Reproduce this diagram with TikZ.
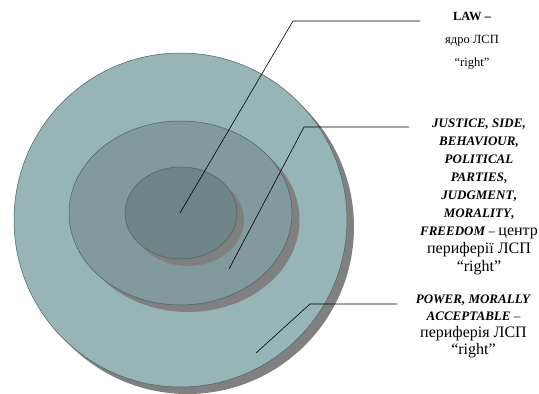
\documentclass[tikz,border=0pt]{standalone}
\usepackage{fontspec}
\setmainfont{Liberation Serif}
\usetikzlibrary{positioning}

\definecolor{outerfill}{HTML}{97B4B6}
\definecolor{midfill}{HTML}{82999D}
\definecolor{corefill}{HTML}{6F8587}
\definecolor{shadowgray}{HTML}{808080}
\definecolor{ringline}{HTML}{4A6163}

\newcommand{\bigcyr}{\fontsize{16}{18}\selectfont}
\tikzset{
  ring/.style={draw=ringline, line width=0.5pt},
  dropshade/.style={fill=shadowgray},
  lead/.style={line width=0.6pt, black},
  note/.style={align=center, inner sep=0pt}
}

\begin{document}
\begin{tikzpicture}[x=1pt, y=-1pt]
  \useasboundingbox (0,0) rectangle (539,394);
  % outer ring: periphery
  \fill[dropshade] (187.5,227) ellipse [x radius=166.5pt, y radius=167pt];
  \fill[outerfill, ring] (180.5,220) ellipse [x radius=166.5pt, y radius=167pt];
  % middle ring: centre of periphery
  \fill[dropshade] (188,220) ellipse [x radius=111.5pt, y radius=92pt];
  \fill[midfill, ring] (180.5,213) ellipse [x radius=111.5pt, y radius=92pt];
  % core
  \fill[dropshade] (188,220) ellipse [x radius=56pt, y radius=46pt];
  \fill[corefill, ring] (181,213) ellipse [x radius=56pt, y radius=46pt];

  % labels
  \node[note, font=\fontsize{12.5}{23}\selectfont] (law) at (472,41)
    {\textbf{LAW –}\\ядро ЛСП\\“right”};
  \node[note, font=\fontsize{13}{18}\selectfont] (centre) at (479,197)
    {\textbf{\textit{JUSTICE, SIDE,}}\\\textbf{\textit{BEHAVIOUR,}}\\
     \textbf{\textit{POLITICAL}}\\\textbf{\textit{PARTIES},}\\
     \textbf{\textit{JUDGMENT},}\\\textbf{\textit{MORALITY},}\\
     \textbf{\textit{FREEDOM}} – {\bigcyr центр}\\
     \bigcyr периферії ЛСП\\
     \bigcyr “right”};
  \node[note, font=\fontsize{13}{17}\selectfont] (periph) at (473.5,326)
    {\textbf{\textit{POWER, MORALLY}}\\\textbf{\textit{ACCEPTABLE}} –\\
     \fontsize{16}{17}\selectfont периферія ЛСП\\
     \fontsize{16}{17}\selectfont “right”};

  % leader points
  \coordinate (coreP) at (180,213);
  \coordinate (coreK) at (293,21);
  \coordinate (coreE) at (420,21);
  \coordinate (midP) at (229,269);
  \coordinate (midK) at (304,127);
  \coordinate (midE) at (409,127);
  \coordinate (outP) at (256,353);
  \coordinate (outK) at (310,304);
  \coordinate (outE) at (397,304);

  % leaders
  \draw[lead] (coreP) -- (coreK) -- (coreE);
  \draw[lead] (midP) -- (midK) -- (midE);
  \draw[lead] (outP) -- (outK) -- (outE);
\end{tikzpicture}
\end{document}
